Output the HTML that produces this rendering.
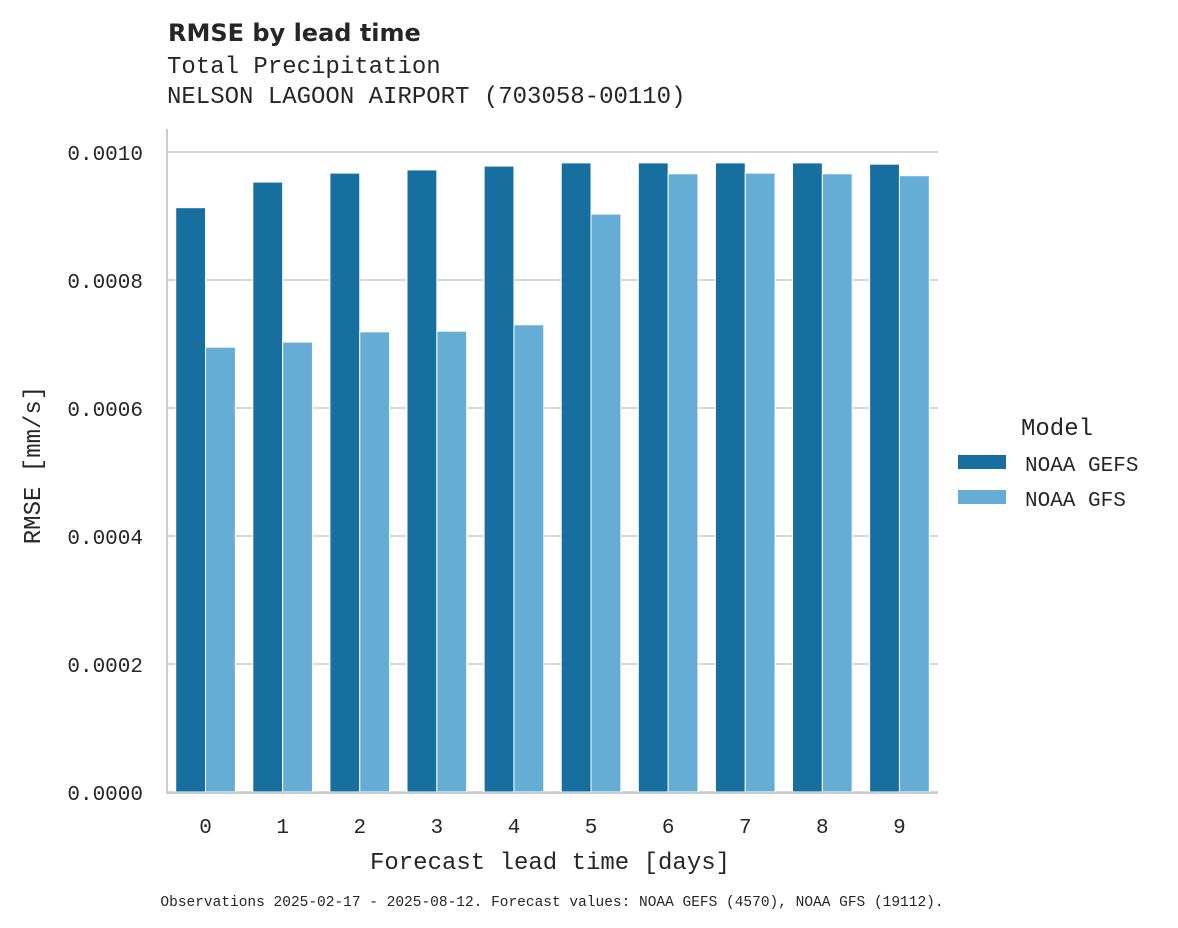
<!DOCTYPE html>
<html><head><meta charset="utf-8">
<style>
html,body{margin:0;padding:0;background:#fff;}
svg{display:block;}
text{fill:#262626;}
.mono{font-family:"Liberation Mono","DejaVu Sans Mono",monospace;}
</style></head>
<body>
<svg id="chart" width="1178" height="928" xmlns="http://www.w3.org/2000/svg">
<text x="168" y="41" font-family="DejaVu Sans, Liberation Sans, sans-serif" font-weight="bold" font-size="24">RMSE by lead time</text>
<text class="mono" x="167" y="73" font-size="24">Total Precipitation</text>
<text class="mono" x="167" y="103" font-size="24">NELSON LAGOON AIRPORT (703058-00110)</text>
<g id="grid"></g>
<g id="bars"></g>
<g id="axes"></g>
<text class="mono" x="550" y="869" font-size="24" text-anchor="middle">Forecast lead time [days]</text>
<text class="mono" transform="translate(40,465) rotate(-90)" font-size="24" text-anchor="middle">RMSE [mm/s]</text>
<g>
<text class="mono" x="1057" y="435" font-size="24" text-anchor="middle">Model</text>
<rect x="958" y="455" width="48" height="14" fill="#176fa0"/>
<text class="mono" x="1025" y="471" font-size="21">NOAA GEFS</text>
<rect x="958" y="490" width="48" height="14" fill="#66add6"/>
<text class="mono" x="1025" y="506" font-size="21">NOAA GFS</text>
</g>
<text class="mono" x="552" y="906" font-size="14.5" text-anchor="middle">Observations 2025-02-17 - 2025-08-12. Forecast values: NOAA GEFS (4570), NOAA GFS (19112).</text>
</svg>
<script>
const categories = ["0","1","2","3","4","5","6","7","8","9"];
const gefsValues = [0.000913,0.000953,0.000967,0.000972,0.000978,0.000983,0.000983,0.000983,0.000983,0.000981];
const gfsValues = [0.000695,0.000703,0.000719,0.000720,0.000730,0.000903,0.000966,0.000967,0.000966,0.000963];
const yTicks = [0,0.0002,0.0004,0.0006,0.0008,0.001];
const yTickLabels = ["0.0000","0.0002","0.0004","0.0006","0.0008","0.0010"];

const NS="http://www.w3.org/2000/svg";
const x0=167,x1=938,yBase=792,yTop=152,yMax=0.001;
const band=(x1-x0)/categories.length;
function y(v){return yBase-(v/yMax)*(yBase-yTop);}
function xc(i){return x0+band*(i+0.5);}
function mk(tag,attrs,parent){const e=document.createElementNS(NS,tag);for(const k in attrs)e.setAttribute(k,attrs[k]);parent.appendChild(e);return e;}
const grid=document.getElementById('grid'),bars=document.getElementById('bars'),axes=document.getElementById('axes');
yTicks.forEach((t,i)=>{
  const l=mk('line',{x1:x0,x2:x1,y1:y(t),y2:y(t),stroke:'#cccccc','stroke-width':1.5},grid);
  
  
  const tx=mk('text',{x:143,y:y(t)+8,'font-size':21,'text-anchor':'end',class:'mono'},axes);
  tx.textContent=yTickLabels[i];
  
  
});
const bw=band*0.4-1;
categories.forEach((c,i)=>{
  const cx=xc(i);
  const b1=mk('rect',{x:cx-band*0.4+1,y:y(gefsValues[i]),width:bw,height:yBase-y(gefsValues[i]),fill:'#176fa0',stroke:'#fff','stroke-width':1},bars);
  
  
  const b2=mk('rect',{x:cx,y:y(gfsValues[i]),width:bw,height:yBase-y(gfsValues[i]),fill:'#66add6',stroke:'#fff','stroke-width':1},bars);
  
  
  const tx=mk('text',{x:cx,y:833,'font-size':21,'text-anchor':'middle',class:'mono'},axes);
  tx.textContent=c;
  
  
});
const ax=mk('line',{x1:x0,x2:x1,y1:yBase+1,y2:yBase+1,stroke:'#cccccc','stroke-width':2},axes);


const ay=mk('line',{x1:x0,x2:x0,y1:129,y2:yBase+2,stroke:'#cccccc','stroke-width':2},axes);


</script>
</body></html>
